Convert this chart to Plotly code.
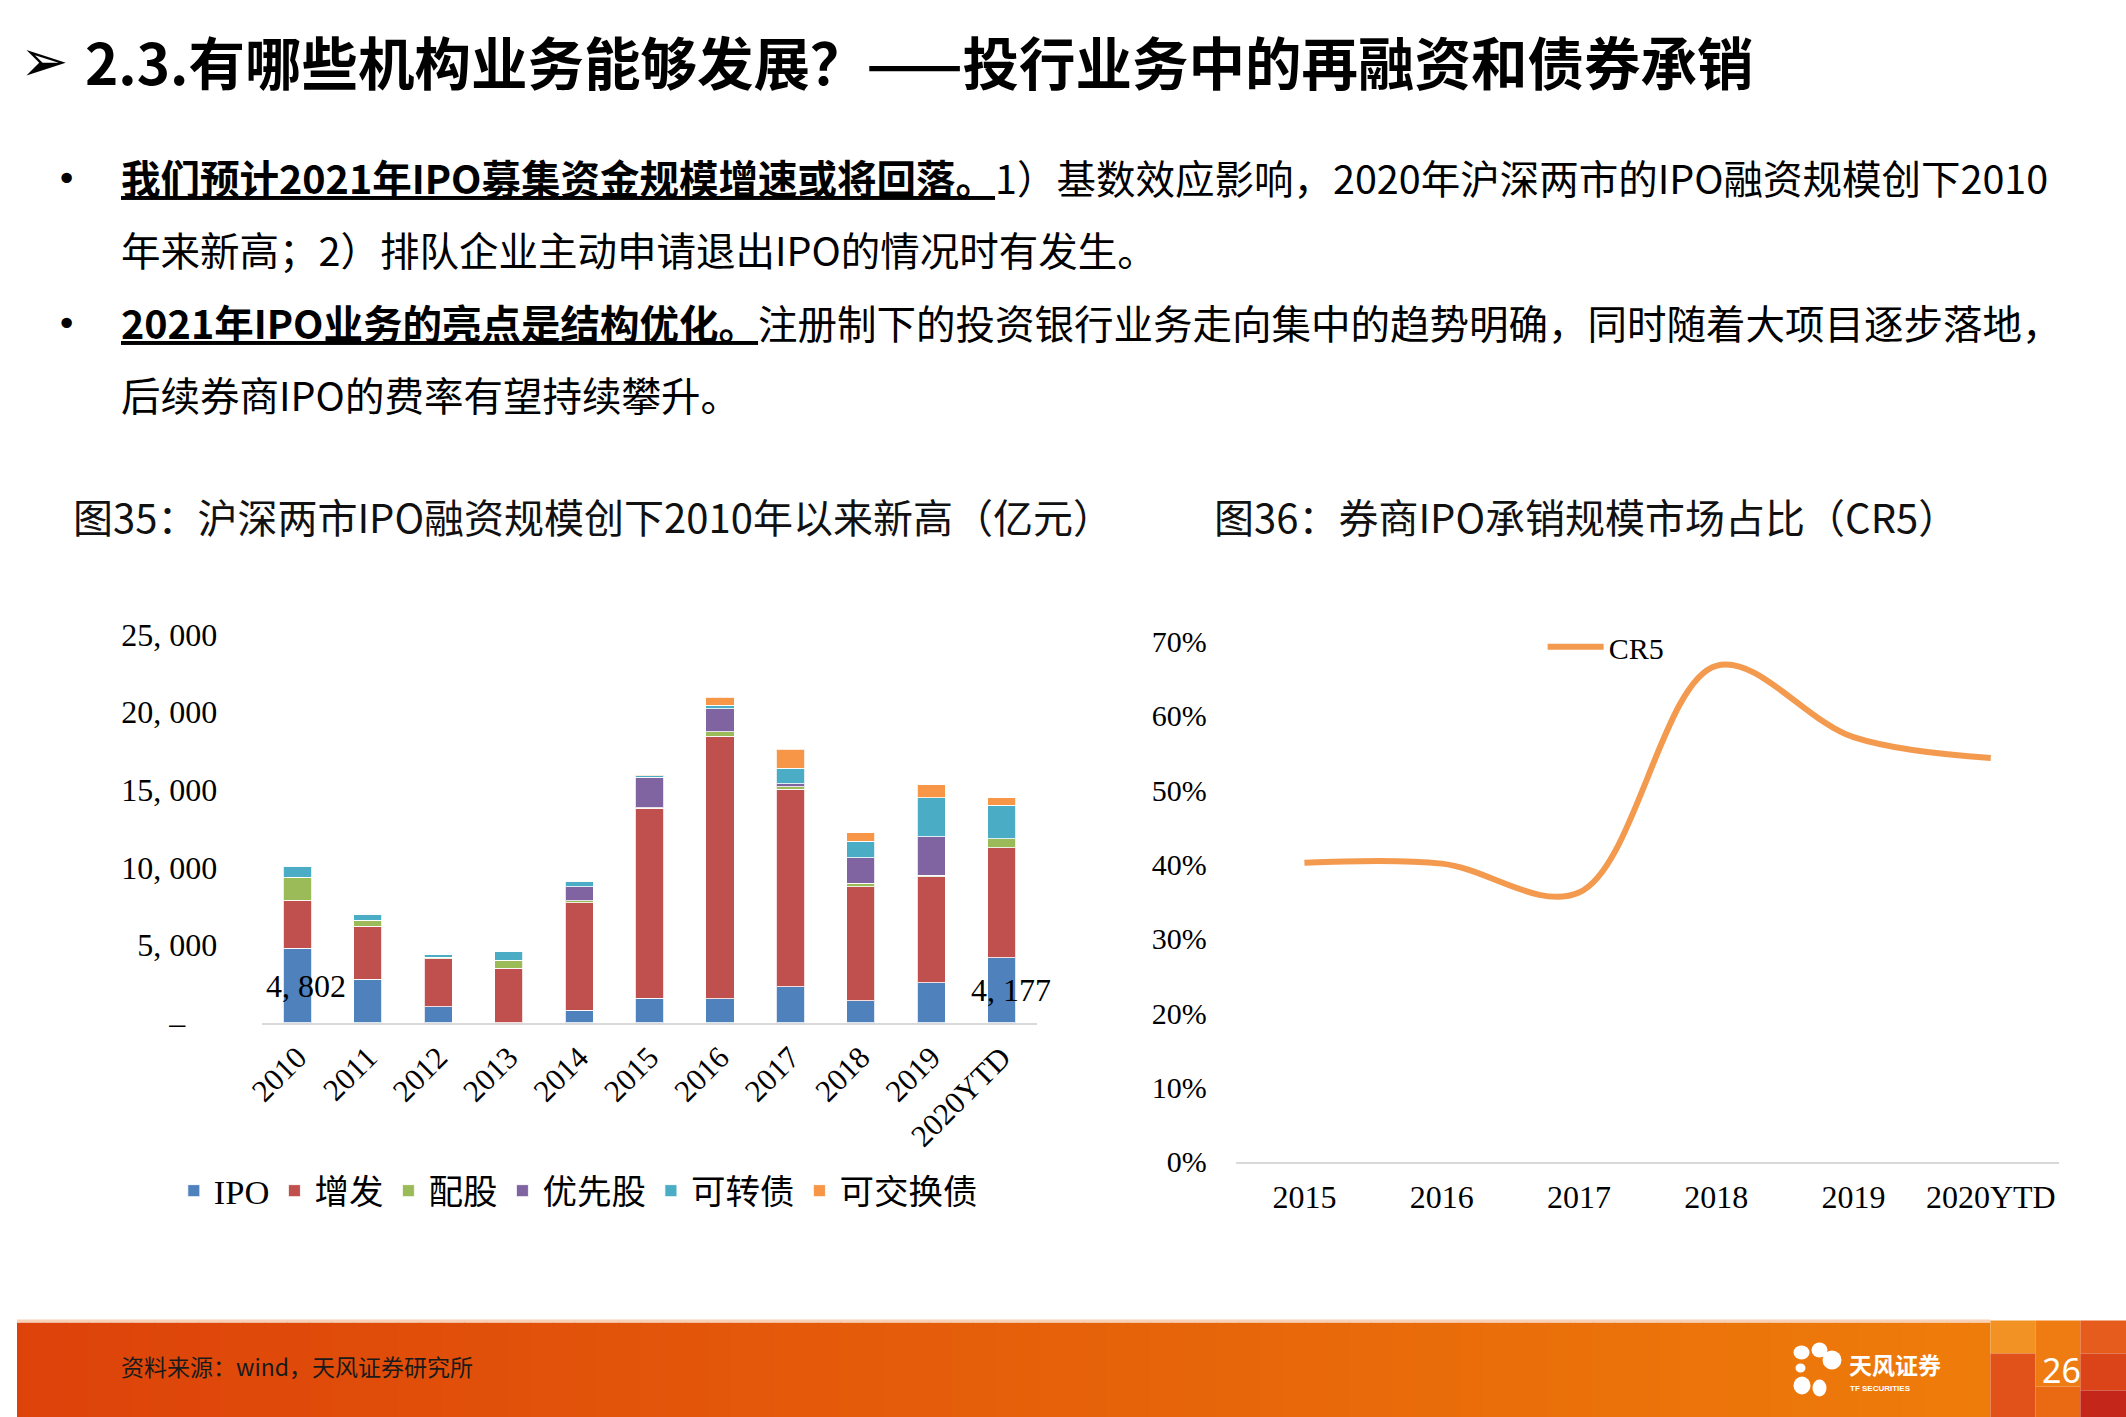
import plotly.graph_objects as go

# Figure size in page pixels (page is captured with a small offset/scale)
FIG_W, FIG_H = 2126, 1436
OX, OY, SX, SY = 17.6, 16.0, 0.9925, 0.976


def px(t):
    """screen x (px) -> paper x"""
    return ((t - OX) / SX) / FIG_W


def py(t):
    """screen y (px from top) -> paper y"""
    return 1 - ((t - OY) / SY) / FIG_H


def clamp(v):
    return max(0.0, min(1.0, v))


# ---------------- data ----------------
years = ["2010", "2011", "2012", "2013", "2014", "2015", "2016", "2017", "2018", "2019", "2020YTD"]
ipo = [4802, 2808, 1048, 0, 816, 1587, 1564, 2336, 1414, 2592, 4177]
zengfa = [3100, 3426, 3084, 3515, 6916, 12211, 16881, 12700, 7346, 6813, 7090]
peigu = [1460, 366, 100, 515, 140, 40, 300, 150, 216, 110, 578]
youxiangu = [0, 0, 0, 0, 900, 1970, 1460, 200, 1650, 2466, 0]
kezhuanzhai = [720, 385, 160, 533, 330, 90, 230, 990, 1070, 2508, 2164]
kejiaohuanzhai = [0, 0, 0, 0, 0, 80, 515, 1220, 533, 835, 476]
series_names = ["IPO", "增发", "配股", "优先股", "可转债", "可交换债"]
series_colors = ["#4F81BD", "#C0504D", "#9BBB59", "#8064A2", "#4BACC6", "#F79646"]
labelled_years = ["2010", "2020YTD"]

bar_ytickvals = [0, 5000, 10000, 15000, 20000, 25000]
bar_yticktext = ["–\u00a0\u00a0\u00a0\u00a0", "5, 000", "10, 000", "15, 000", "20, 000", "25, 000"]

cr5_years = ["2015", "2016", "2017", "2018", "2019", "2020YTD"]
cr5 = [0.402, 0.401, 0.362, 0.667, 0.571, 0.543]
line_ytickvals = [0, 0.1, 0.2, 0.3, 0.4, 0.5, 0.6, 0.7]

SANS = "Noto Sans CJK SC, Noto Sans, sans-serif"
SERIF = "Liberation Serif, Noto Sans CJK SC, serif"

fig = go.Figure()

all_series = [ipo, zengfa, peigu, youxiangu, kezhuanzhai, kejiaohuanzhai]
for name, vals, col in zip(series_names, all_series, series_colors):
    fig.add_trace(go.Bar(
        x=years, y=vals, name=name, marker=dict(color=col, line=dict(color="rgba(255,255,255,0.8)", width=1)),
        xaxis="x", yaxis="y", legend="legend",
    ))

fig.add_trace(go.Scatter(
    x=cr5_years, y=cr5, name="CR5", mode="lines",
    line=dict(color="#F39A4F", width=6, shape="spline", smoothing=1.0),
    xaxis="x2", yaxis="y2", legend="legend2",
))

annotations = []
for yr in labelled_years:
    i = years.index(yr)
    v = ipo[i]
    annotations.append(dict(
        x=i, y=v / 2, xref="x", yref="y", text=f"{v // 1000}, {v % 1000:03d}",
        showarrow=False, xshift=9, font=dict(family=SERIF, size=32, color="#000000"),
    ))


def txt(x, y, text, size, family=SANS, color="#000000", xanchor="left"):
    return dict(x=px(x), y=py(y), xref="paper", yref="paper", xanchor=xanchor, yanchor="middle",
                text=text, showarrow=False, font=dict(family=family, size=size, color=color))


annotations += [
    txt(19, 59, "➢", 58, family="DejaVu Sans"),
    txt(84, 58, "<b>2.3.有哪些机构业务能够发展？——投行业务中的再融资和债券承销</b>", 56.5),
]

bullet_lines = [
    (179, True, "<b><u>我们预计2021年IPO募集资金规模增速或将回落。</u></b>1）基数效应影响，2020年沪深两市的IPO融资规模创下2010"),
    (251, False, "年来新高；2）排队企业主动申请退出IPO的情况时有发生。"),
    (324, True, "<b><u>2021年IPO业务的亮点是结构优化。</u></b>注册制下的投资银行业务走向集中的趋势明确，同时随着大项目逐步落地，"),
    (396, False, "后续券商IPO的费率有望持续攀升。"),
]
for yy, bullet, line in bullet_lines:
    if bullet:
        annotations.append(txt(55, yy - 2, "•", 36, family="DejaVu Sans"))
    annotations.append(txt(120, yy - 4.5, line, 39.5))

annotations += [
    txt(72, 514.5, "图35：沪深两市IPO融资规模创下2010年以来新高（亿元）", 40, color="#111111"),
    txt(1213, 514.5, "图36：券商IPO承销规模市场占比（CR5）", 40, color="#111111"),
    txt(120, 1365.5, "资料来源：wind，天风证券研究所", 23, color="#1a1a1a"),
    txt(1849, 1363, "<b>天风证券</b>", 23, color="#ffffff"),
    txt(1850, 1388, "<b>TF SECURITIES</b>", 8, family="Liberation Sans", color="#ffffff"),
    txt(2063, 1369, "26", 34, family="Noto Sans", color="#ffffff", xanchor="center"),
]

# ---------------- footer shapes ----------------
shapes = []
band_top = 1322
c0 = (221, 66, 10)
c1 = (238, 124, 10)
n = 90
x_end = 1992
for k in range(n):
    t = k / (n - 1)
    r = round(c0[0] + (c1[0] - c0[0]) * t)
    g = round(c0[1] + (c1[1] - c0[1]) * t)
    b = round(c0[2] + (c1[2] - c0[2]) * t)
    xa = x_end * k / n
    xb = min(x_end * (k + 1) / n + 1, x_end)
    shapes.append(dict(type="rect", xref="paper", yref="paper", x0=clamp(px(xa)), x1=clamp(px(xb)),
                       y0=0, y1=py(band_top), line=dict(width=0), fillcolor=f"rgb({r},{g},{b})"))
shapes.append(dict(type="rect", xref="paper", yref="paper", x0=0, x1=px(x_end), y0=py(band_top),
                   y1=py(band_top - 3), line=dict(width=0), fillcolor="#F7D2B8"))
blocks = [
    (1992, 2037, 1320, 1353, "#F29224"),
    (1992, 2037, 1353, 1440, "#E0521A"),
    (2037, 2082, 1320, 1386, "#EE7C12"),
    (2037, 2082, 1386, 1440, "#E96A12"),
    (2082, 2140, 1320, 1353, "#E65C1C"),
    (2082, 2140, 1353, 1390, "#DA4418"),
    (2082, 2140, 1390, 1440, "#C5261A"),
]
for xa, xb, ya, yb, col in blocks:
    shapes.append(dict(type="rect", xref="paper", yref="paper", x0=clamp(px(xa)), x1=clamp(px(xb)),
                       y0=clamp(py(yb)), y1=py(ya), line=dict(width=0), fillcolor=col))
petals = [
    (1795, 1811, 1345, 1359),
    (1813, 1829, 1342, 1357),
    (1824, 1843, 1350, 1369),
    (1797, 1807, 1363, 1372),
    (1795, 1812, 1376, 1394),
    (1814, 1828, 1379, 1396),
]
for xa, xb, ya, yb in petals:
    shapes.append(dict(type="circle", xref="paper", yref="paper", x0=px(xa), x1=px(xb), y0=py(yb), y1=py(ya),
                       line=dict(width=0), fillcolor="#ffffff"))

fig.update_layout(
    width=FIG_W, height=FIG_H,
    margin=dict(l=0, r=0, t=0, b=0),
    paper_bgcolor="#ffffff", plot_bgcolor="rgba(0,0,0,0)",
    barmode="stack", bargap=0.6,
    hovermode=False,
    showlegend=True,
    annotations=annotations,
    shapes=shapes,
    xaxis=dict(domain=[px(263), px(1038)], anchor="y", type="category", range=[-0.5, 10.5],
               showline=True, linecolor="#D9D9D9", linewidth=2, showgrid=False, zeroline=False,
               ticks="", tickangle=-45, tickfont=dict(family=SERIF, size=31, color="#000000"),
               ticklabelstandoff=2),
    yaxis=dict(domain=[py(1022), py(633)], anchor="x", range=[0, 25000],
               tickvals=bar_ytickvals, ticktext=bar_yticktext, showgrid=False, zeroline=False,
               showline=False, ticks="", tickfont=dict(family=SERIF, size=32, color="#000000"),
               ticklabelstandoff=44),
    xaxis2=dict(domain=[px(1237), px(2061)], anchor="y2", type="category", range=[-0.5, 5.5],
                showline=True, linecolor="#D9D9D9", linewidth=2, showgrid=False, zeroline=False,
                ticks="", tickfont=dict(family=SERIF, size=32, color="#000000"), ticklabelstandoff=6),
    yaxis2=dict(domain=[py(1161), py(640)], anchor="x2", range=[0, 0.7],
                tickvals=line_ytickvals, tickformat=".0%", showgrid=False, zeroline=False,
                showline=False, ticks="", tickfont=dict(family=SERIF, size=30, color="#000000"),
                ticklabelstandoff=28),
    legend=dict(orientation="h", x=px(174.5), y=py(1190), xanchor="left", yanchor="middle",
                traceorder="normal", bgcolor="rgba(0,0,0,0)",
                font=dict(family=SERIF, size=34.5, color="#000000")),
    legend2=dict(orientation="h", x=px(1544), y=py(645.5), xanchor="left", yanchor="middle",
                 bgcolor="rgba(0,0,0,0)", itemwidth=56,
                 font=dict(family=SERIF, size=30, color="#000000")),
)

fig.write_html(
    "out.html",
    config={"displayModeBar": False, "staticPlot": False},
    post_script=(
        "document.documentElement.style.margin='0';document.documentElement.style.overflow='hidden';"
        "document.body.style.margin='0';document.body.style.padding='0';document.body.style.overflow='hidden';"
    ),
)
